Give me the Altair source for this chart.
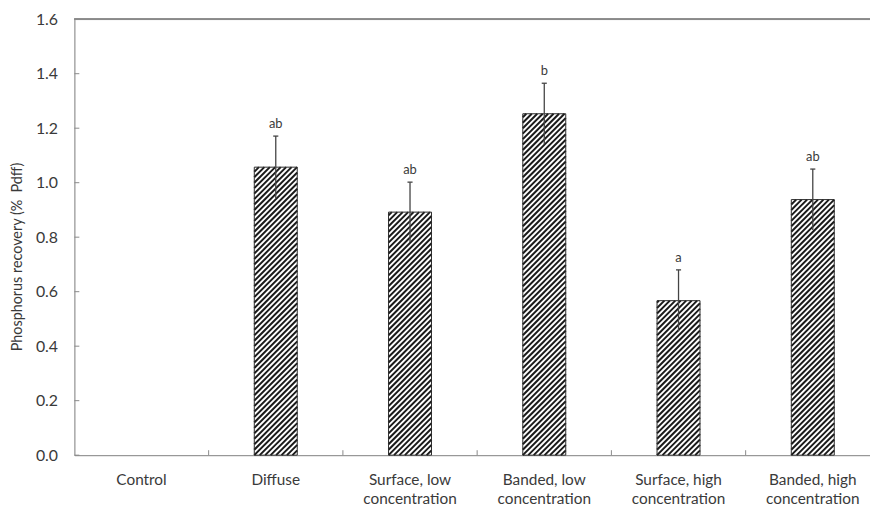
import altair as alt
import pandas as pd

# ---- data ----
categories = ["Control", "Diffuse", "Surface, low\nconcentration", "Banded, low\nconcentration",
              "Surface, high\nconcentration", "Banded, high\nconcentration"]
values = [None, 1.057, 0.892, 1.253, 0.567, 0.938]
errors = [None, 0.114, 0.110, 0.112, 0.113, 0.112]
letters = ["", "ab", "ab", "b", "a", "ab"]
y_ticks = [0.0, 0.2, 0.4, 0.6, 0.8, 1.0, 1.2, 1.4, 1.6]
x_ticks = [1, 2, 3, 4, 5]
y_title = ["Phosphorus recovery (% \u00a0Pdff)"]

# ---- layout / style ----
VIEW_W = 803          # visible plot width (right part clipped like the reference)
X_RANGE = 813         # full range of the 6 category slots
H = 440
N = len(categories)
XU = X_RANGE / N      # px per x unit
YU = H / 1.6          # px per y unit
BAR_HALF = 0.16
BAR_W_PX = 2 * BAR_HALF * XU
HATCH = 5.5           # px between hatch lines (horizontal)
GREY = "#8a8a8a"
TXT = "#3a3a3a"
FONT = "Lato"

df = pd.DataFrame({
    "idx": list(range(N)),
    "label": categories,
    "val": values,
    "err": errors,
    "letter": letters,
})
bars_df = df.dropna(subset=["val"]).copy()

xs = alt.Scale(domain=[0, N], range=[0, X_RANGE], nice=False, zero=False)
ys = alt.Scale(domain=[0, 1.6], nice=False)

base = alt.Chart(bars_df).transform_calculate(
    xl=f"datum.idx + 0.5 - {BAR_HALF}",
    xr=f"datum.idx + 0.5 + {BAR_HALF}",
    xc="datum.idx + 0.5",
    lo="datum.val - datum.err",
    hi="datum.val + datum.err",
    cl="datum.idx + 0.5 - 0.019",
    cr="datum.idx + 0.5 + 0.019",
)

bars_fill = base.mark_bar(fill="white", stroke=None).encode(
    x=alt.X("xl:Q", scale=xs, axis=alt.Axis(labels=False, ticks=False, grid=False,
                                              domainColor=GREY, title=None)),
    x2="xr:Q",
    y=alt.Y("val:Q", scale=ys, axis=alt.Axis(values=y_ticks, format=".1f", ticks=False, grid=False,
                                             domainColor=GREY, labelColor=TXT, labelFontSize=16,
                                             labelFont=FONT, labelPadding=17, title=None)),
    y2=alt.datum(0),
)

hatch = alt.Chart(bars_df).transform_calculate(
    Hp=f"datum.val * {YU}",
).transform_calculate(
    ks=f"sequence(-9, ceil(datum.Hp / {HATCH}) + 1)"
).transform_flatten(["ks"], as_=["k"]).transform_calculate(
    t=f"datum.k * {HATCH}",
).transform_calculate(
    X0="max(0, -datum.t)",
    X1=f"min({BAR_W_PX}, datum.Hp - datum.t)",
).transform_filter("datum.X1 > datum.X0").transform_calculate(
    hx=f"datum.idx + 0.5 - {BAR_HALF} + datum.X0 / {XU}",
    hx2=f"datum.idx + 0.5 - {BAR_HALF} + datum.X1 / {XU}",
    hy=f"(datum.X0 + datum.t) / {YU}",
    hy2=f"(datum.X1 + datum.t) / {YU}",
).mark_rule(color="#1a1a1a", strokeWidth=2.0, strokeCap="butt").encode(
    x=alt.X("hx:Q", scale=xs),
    x2="hx2:Q",
    y=alt.Y("hy:Q", scale=ys),
    y2="hy2:Q",
)

bars_outline = base.mark_bar(fill=None, stroke="#2a2a2a", strokeWidth=1).encode(
    x=alt.X("xl:Q", scale=xs), x2="xr:Q",
    y=alt.Y("val:Q", scale=ys), y2=alt.datum(0),
)

err_line = base.mark_rule(color="#444444", strokeWidth=1.3).encode(
    x=alt.X("xc:Q", scale=xs),
    y=alt.Y("lo:Q", scale=ys), y2="hi:Q",
)
err_cap = base.mark_rule(color="#444444", strokeWidth=1.3).encode(
    x=alt.X("cl:Q", scale=xs), x2="cr:Q",
    y=alt.Y("hi:Q", scale=ys),
)
letter_txt = base.mark_text(font=FONT, fontSize=13, color=TXT, dy=-12, baseline="middle").encode(
    x=alt.X("xc:Q", scale=xs),
    y=alt.Y("hi:Q", scale=ys),
    text="letter:N",
)

# category labels under the axis
xlab = alt.Chart(df).transform_calculate(
    xc="datum.idx + 0.5"
).mark_text(font=FONT, fontSize=15.5, color=TXT, baseline="middle", lineBreak="\n",
            lineHeight=19, align="center").encode(
    x=alt.X("xc:Q", scale=xs),
    y=alt.value(H + 25),
    text="label:N",
)

# y-axis title as a rotated text mark
ytitle = alt.Chart(pd.DataFrame({"t": y_title})).mark_text(
    font=FONT, fontSize=14.5, color=TXT, angle=270, align="center", baseline="middle"
).encode(
    x=alt.value(-57), y=alt.value(H / 2 + 20), text="t:N",
)

# inward ticks
ytick_df = pd.DataFrame({"v": y_ticks})
yticks = alt.Chart(ytick_df).mark_rule(color=GREY).encode(
    y=alt.Y("v:Q", scale=ys), x=alt.value(0), x2=alt.value(5),
)
xtick_df = pd.DataFrame({"v": x_ticks})
xticks = alt.Chart(xtick_df).mark_rule(color=GREY).encode(
    x=alt.X("v:Q", scale=xs), y=alt.value(H), y2=alt.value(H - 5),
)
top_line = alt.Chart(ytick_df).mark_rule(color=GREY).encode(
    x=alt.value(0), x2=alt.value(X_RANGE), y=alt.value(0),
)

chart = alt.layer(
    bars_fill, hatch, bars_outline, err_line, err_cap, letter_txt, xlab, ytitle,
    yticks, xticks, top_line
).properties(
    width=VIEW_W, height=H,
    autosize=alt.AutoSizeParams(type="none"),
    padding={"left": 67, "top": 9, "right": 0, "bottom": 49},
).configure_view(strokeWidth=0).configure(background="white")

chart.save("out.html", embed_options={"renderer": "svg", "actions": False})
